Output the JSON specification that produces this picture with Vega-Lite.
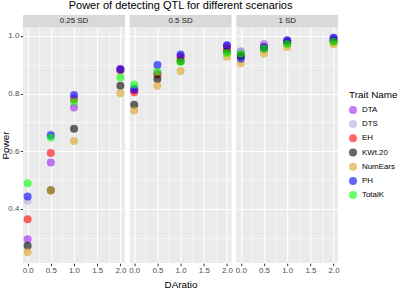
{
  "$schema": "https://vega.github.io/schema/vega-lite/v6.json",
  "padding": {"left": 0, "top": 0, "right": 0, "bottom": 0},
  "background": "white",
  "config": {
    "font": "Liberation Sans",
    "view": {"stroke": null},
    "axis": {
      "domain": false,
      "gridColor": "white",
      "tickColor": "#333333",
      "tickSize": 2.7,
      "labelColor": "#4D4D4D",
      "labelFontSize": 7.9,
      "labelPadding": 1.5,
      "titleFontSize": 9.9,
      "titleFontWeight": "normal",
      "titleColor": "black"
    },
    "legend": {
      "orient": "none",
      "legendX": 326,
      "legendY": 75,
      "titleFontSize": 9.9,
      "titleFontWeight": "normal",
      "titleColor": "black",
      "titlePadding": 6,
      "labelFontSize": 7.9,
      "labelFontWeight": "normal",
      "labelColor": "black",
      "symbolType": "circle",
      "symbolSize": 64,
      "symbolOpacity": 0.6,
      "symbolStrokeWidth": 0,
      "rowPadding": 6.2,
      "labelOffset": 5
    }
  },
  "datasets": {
    "panels": [
      {"scenario": "0.25 SD"},
      {"scenario": "0.5 SD"},
      {"scenario": "1 SD"}
    ],
    "power": [
      {"scenario": "0.25 SD", "DAratio": 0, "trait": "DTA", "power": 0.295},
      {"scenario": "0.25 SD", "DAratio": 0, "trait": "DTS", "power": 0.428},
      {"scenario": "0.25 SD", "DAratio": 0, "trait": "EH", "power": 0.364},
      {"scenario": "0.25 SD", "DAratio": 0, "trait": "KWt.20", "power": 0.272},
      {"scenario": "0.25 SD", "DAratio": 0, "trait": "NumEars", "power": 0.25},
      {"scenario": "0.25 SD", "DAratio": 0, "trait": "PH", "power": 0.443},
      {"scenario": "0.25 SD", "DAratio": 0, "trait": "TotalK", "power": 0.489},
      {"scenario": "0.25 SD", "DAratio": 0.5, "trait": "DTA", "power": 0.561},
      {"scenario": "0.25 SD", "DAratio": 0.5, "trait": "DTS", "power": 0.66},
      {"scenario": "0.25 SD", "DAratio": 0.5, "trait": "EH", "power": 0.594},
      {"scenario": "0.25 SD", "DAratio": 0.5, "trait": "KWt.20", "power": 0.465},
      {"scenario": "0.25 SD", "DAratio": 0.5, "trait": "NumEars", "power": 0.463},
      {"scenario": "0.25 SD", "DAratio": 0.5, "trait": "PH", "power": 0.655},
      {"scenario": "0.25 SD", "DAratio": 0.5, "trait": "TotalK", "power": 0.648},
      {"scenario": "0.25 SD", "DAratio": 1, "trait": "DTA", "power": 0.752},
      {"scenario": "0.25 SD", "DAratio": 1, "trait": "DTS", "power": 0.788},
      {"scenario": "0.25 SD", "DAratio": 1, "trait": "EH", "power": 0.78},
      {"scenario": "0.25 SD", "DAratio": 1, "trait": "KWt.20", "power": 0.678},
      {"scenario": "0.25 SD", "DAratio": 1, "trait": "NumEars", "power": 0.636},
      {"scenario": "0.25 SD", "DAratio": 1, "trait": "PH", "power": 0.795},
      {"scenario": "0.25 SD", "DAratio": 1, "trait": "TotalK", "power": 0.772},
      {"scenario": "0.25 SD", "DAratio": 2, "trait": "DTA", "power": 0.886},
      {"scenario": "0.25 SD", "DAratio": 2, "trait": "DTS", "power": 0.88},
      {"scenario": "0.25 SD", "DAratio": 2, "trait": "EH", "power": 0.882},
      {"scenario": "0.25 SD", "DAratio": 2, "trait": "KWt.20", "power": 0.827},
      {"scenario": "0.25 SD", "DAratio": 2, "trait": "NumEars", "power": 0.801},
      {"scenario": "0.25 SD", "DAratio": 2, "trait": "PH", "power": 0.884},
      {"scenario": "0.25 SD", "DAratio": 2, "trait": "TotalK", "power": 0.856},
      {"scenario": "0.5 SD", "DAratio": 0, "trait": "DTA", "power": 0.812},
      {"scenario": "0.5 SD", "DAratio": 0, "trait": "DTS", "power": 0.82},
      {"scenario": "0.5 SD", "DAratio": 0, "trait": "EH", "power": 0.805},
      {"scenario": "0.5 SD", "DAratio": 0, "trait": "KWt.20", "power": 0.761},
      {"scenario": "0.5 SD", "DAratio": 0, "trait": "NumEars", "power": 0.741},
      {"scenario": "0.5 SD", "DAratio": 0, "trait": "PH", "power": 0.815},
      {"scenario": "0.5 SD", "DAratio": 0, "trait": "TotalK", "power": 0.832},
      {"scenario": "0.5 SD", "DAratio": 0.5, "trait": "DTA", "power": 0.87},
      {"scenario": "0.5 SD", "DAratio": 0.5, "trait": "DTS", "power": 0.872},
      {"scenario": "0.5 SD", "DAratio": 0.5, "trait": "EH", "power": 0.865},
      {"scenario": "0.5 SD", "DAratio": 0.5, "trait": "KWt.20", "power": 0.851},
      {"scenario": "0.5 SD", "DAratio": 0.5, "trait": "NumEars", "power": 0.827},
      {"scenario": "0.5 SD", "DAratio": 0.5, "trait": "PH", "power": 0.899},
      {"scenario": "0.5 SD", "DAratio": 0.5, "trait": "TotalK", "power": 0.876},
      {"scenario": "0.5 SD", "DAratio": 1, "trait": "DTA", "power": 0.93},
      {"scenario": "0.5 SD", "DAratio": 1, "trait": "DTS", "power": 0.925},
      {"scenario": "0.5 SD", "DAratio": 1, "trait": "EH", "power": 0.925},
      {"scenario": "0.5 SD", "DAratio": 1, "trait": "KWt.20", "power": 0.912},
      {"scenario": "0.5 SD", "DAratio": 1, "trait": "NumEars", "power": 0.878},
      {"scenario": "0.5 SD", "DAratio": 1, "trait": "PH", "power": 0.936},
      {"scenario": "0.5 SD", "DAratio": 1, "trait": "TotalK", "power": 0.91},
      {"scenario": "0.5 SD", "DAratio": 2, "trait": "DTA", "power": 0.966},
      {"scenario": "0.5 SD", "DAratio": 2, "trait": "DTS", "power": 0.96},
      {"scenario": "0.5 SD", "DAratio": 2, "trait": "EH", "power": 0.958},
      {"scenario": "0.5 SD", "DAratio": 2, "trait": "KWt.20", "power": 0.945},
      {"scenario": "0.5 SD", "DAratio": 2, "trait": "NumEars", "power": 0.928},
      {"scenario": "0.5 SD", "DAratio": 2, "trait": "PH", "power": 0.968},
      {"scenario": "0.5 SD", "DAratio": 2, "trait": "TotalK", "power": 0.941},
      {"scenario": "1 SD", "DAratio": 0, "trait": "DTA", "power": 0.945},
      {"scenario": "1 SD", "DAratio": 0, "trait": "DTS", "power": 0.948},
      {"scenario": "1 SD", "DAratio": 0, "trait": "EH", "power": 0.93},
      {"scenario": "1 SD", "DAratio": 0, "trait": "KWt.20", "power": 0.932},
      {"scenario": "1 SD", "DAratio": 0, "trait": "NumEars", "power": 0.905},
      {"scenario": "1 SD", "DAratio": 0, "trait": "PH", "power": 0.922},
      {"scenario": "1 SD", "DAratio": 0, "trait": "TotalK", "power": 0.938},
      {"scenario": "1 SD", "DAratio": 0.5, "trait": "DTA", "power": 0.971},
      {"scenario": "1 SD", "DAratio": 0.5, "trait": "DTS", "power": 0.968},
      {"scenario": "1 SD", "DAratio": 0.5, "trait": "EH", "power": 0.96},
      {"scenario": "1 SD", "DAratio": 0.5, "trait": "KWt.20", "power": 0.955},
      {"scenario": "1 SD", "DAratio": 0.5, "trait": "NumEars", "power": 0.939},
      {"scenario": "1 SD", "DAratio": 0.5, "trait": "PH", "power": 0.962},
      {"scenario": "1 SD", "DAratio": 0.5, "trait": "TotalK", "power": 0.956},
      {"scenario": "1 SD", "DAratio": 1, "trait": "DTA", "power": 0.983},
      {"scenario": "1 SD", "DAratio": 1, "trait": "DTS", "power": 0.98},
      {"scenario": "1 SD", "DAratio": 1, "trait": "EH", "power": 0.978},
      {"scenario": "1 SD", "DAratio": 1, "trait": "KWt.20", "power": 0.975},
      {"scenario": "1 SD", "DAratio": 1, "trait": "NumEars", "power": 0.962},
      {"scenario": "1 SD", "DAratio": 1, "trait": "PH", "power": 0.985},
      {"scenario": "1 SD", "DAratio": 1, "trait": "TotalK", "power": 0.972},
      {"scenario": "1 SD", "DAratio": 2, "trait": "DTA", "power": 0.992},
      {"scenario": "1 SD", "DAratio": 2, "trait": "DTS", "power": 0.988},
      {"scenario": "1 SD", "DAratio": 2, "trait": "EH", "power": 0.985},
      {"scenario": "1 SD", "DAratio": 2, "trait": "KWt.20", "power": 0.982},
      {"scenario": "1 SD", "DAratio": 2, "trait": "NumEars", "power": 0.971},
      {"scenario": "1 SD", "DAratio": 2, "trait": "PH", "power": 0.994},
      {"scenario": "1 SD", "DAratio": 2, "trait": "TotalK", "power": 0.98}
    ]
  },
  "vconcat": [
    {
      "data": {"name": "panels"},
      "title": {
        "text": "Power of detecting QTL for different scenarios",
        "fontSize": 11,
        "fontWeight": "normal",
        "color": "black",
        "anchor": "middle",
        "offset": 4
      },
      "facet": {
        "column": {
          "field": "scenario",
          "type": "nominal",
          "sort": ["0.25 SD", "0.5 SD", "1 SD"],
          "title": null,
          "header": {"labels": false, "title": null}
        }
      },
      "spacing": 4.6,
      "spec": {
        "width": 102,
        "height": 12,
        "view": {"fill": "#D9D9D9", "stroke": null},
        "mark": {"type": "text", "fontSize": 7.9, "color": "#1A1A1A", "baseline": "middle", "align": "center"},
        "encoding": {"text": {"field": "scenario", "type": "nominal"}}
      }
    },
    {
      "data": {"name": "power"},
      "facet": {
        "column": {
          "field": "scenario",
          "type": "nominal",
          "sort": ["0.25 SD", "0.5 SD", "1 SD"],
          "title": "DAratio",
          "header": {
            "labels": false,
            "titleOrient": "bottom",
            "titleFontSize": 9.9,
            "titleFontWeight": "normal",
            "titleColor": "black",
            "titlePadding": -5
          }
        }
      },
      "spacing": 4.6,
      "spec": {
        "width": 102,
        "height": 236,
        "view": {"fill": "#EBEBEB", "stroke": null},
        "mark": {"type": "circle", "size": 64, "opacity": 0.6},
        "encoding": {
          "x": {
            "field": "DAratio",
            "type": "quantitative",
            "title": null,
            "scale": {"domain": [-0.1, 2.1], "nice": false, "zero": false},
            "axis": {
              "values": [0, 0.25, 0.5, 0.75, 1, 1.25, 1.5, 1.75, 2],
              "labelExpr": "(datum.value * 2) % 1 == 0 ? format(datum.value, '.1f') : ''",
              "labelPadding": 0.5,
              "gridWidth": {"condition": {"test": "(datum.value * 2) % 1 != 0", "value": 0.55}, "value": 1.1},
              "tickOpacity": {"condition": {"test": "(datum.value * 2) % 1 != 0", "value": 0}, "value": 1}
            }
          },
          "y": {
            "field": "power",
            "type": "quantitative",
            "title": "Power",
            "scale": {"domain": [0.2125, 1.031], "nice": false, "zero": false},
            "axis": {
              "values": [0.3, 0.4, 0.5, 0.6, 0.7, 0.8, 0.9, 1.0],
              "labelExpr": "round(datum.value * 10) % 2 == 0 ? format(datum.value, '.1f') : ''",
              "gridWidth": {"condition": {"test": "round(datum.value * 10) % 2 == 1", "value": 0.55}, "value": 1.1},
              "tickOpacity": {"condition": {"test": "round(datum.value * 10) % 2 == 1", "value": 0}, "value": 1},
              "titleX": -13,
              "titleBaseline": "bottom"
            }
          },
          "color": {
            "field": "trait",
            "type": "nominal",
            "title": "Trait Name",
            "scale": {
              "domain": ["DTA", "DTS", "EH", "KWt.20", "NumEars", "PH", "TotalK"],
              "range": ["#A020F0", "#B4ACDC", "#FF0000", "#000000", "#DAA520", "#0000FF", "#00FF00"]
            }
          }
        }
      }
    }
  ],
  "spacing": 0
}
